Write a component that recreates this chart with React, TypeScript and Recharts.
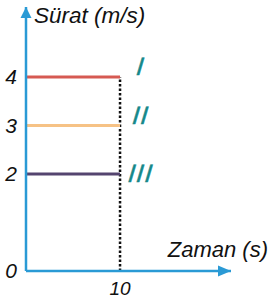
import React from 'react';
import { LineChart, Line, XAxis, YAxis, ReferenceLine, ReferenceDot } from 'recharts';

const timeEnd = 10;
const seriesI = [{ x: 0, v: 4 }, { x: 10, v: 4 }];
const seriesII = [{ x: 0, v: 3 }, { x: 10, v: 3 }];
const seriesIII = [{ x: 0, v: 2 }, { x: 10, v: 2 }];
const seriesNames = ['I', 'II', 'III'];
const yTicks = [0, 2, 3, 4];
const xTicks = [10];
const yTitle = 'Sürat (m/s)';
const xTitle = 'Zaman (s)';

const xMax = 21.8;
const yMax = 5.44;
const AXIS = '#2a9ad5';
const TEAL = '#15888a';
const FONT = '"Liberation Sans", Arial, sans-serif';

const makeLabel = (name: string, dy: number) => (props: any) => {
  if (props.index !== 1) return null;
  const cx = props.x + 21;
  const cy = props.y + dy;
  return (
    <text x={cx} y={cy} textAnchor="middle" dominantBaseline="central"
      transform={`translate(${cx},${cy}) skewX(-6) translate(${-cx},${-cy})`}
      fontFamily={FONT} fontStyle="italic" fontSize={25} fill={TEAL}
      stroke={TEAL} strokeWidth={0.5} letterSpacing={1.5}>{name}</text>
  );
};

const YArrow = (p: any) => (
  <g>
    <polygon points={`${p.cx},${p.cy} ${p.cx - 5.5},${p.cy + 11} ${p.cx + 5.5},${p.cy + 11}`} fill={AXIS} />
    <text x={p.cx + 8} y={p.cy + 15.5} fontFamily={FONT} fontStyle="italic" fontSize={22.5} fill="#111">{yTitle}</text>
  </g>
);

const XArrow = (p: any) => (
  <g>
    <polygon points={`${p.cx},${p.cy} ${p.cx - 13},${p.cy - 5.5} ${p.cx - 13},${p.cy + 5.5}`} fill={AXIS} />
    <text x={p.cx + 37} y={p.cy - 14} textAnchor="end" fontFamily={FONT} fontStyle="italic" fontSize={22} fill="#111">{xTitle}</text>
  </g>
);

export default function App() {
  return (
    <div style={{ position: 'absolute', left: 0, top: 0 }}>
      <LineChart width={275} height={304} margin={{ top: 7, right: 44, bottom: 0, left: 0 }}>
        <XAxis type="number" dataKey="x" domain={[0, xMax]} allowDataOverflow ticks={xTicks}
          tickLine={false} tickSize={0} tickMargin={11} height={33}
          axisLine={{ stroke: AXIS, strokeWidth: 2.5 }}
          tick={{ fontSize: 19, fontStyle: 'italic', fill: '#111', fontFamily: FONT }} />
        <YAxis type="number" domain={[0, yMax]} allowDataOverflow ticks={yTicks}
          tickLine={false} tickSize={0} tickMargin={9} width={26}
          axisLine={{ stroke: AXIS, strokeWidth: 2.5 }}
          tick={{ fontSize: 21, fontStyle: 'italic', fill: '#111', fontFamily: FONT }} />
        <ReferenceLine segment={[{ x: timeEnd, y: 0 }, { x: timeEnd, y: 4 }]} stroke="#111"
          strokeWidth={2.5} strokeDasharray="2.5 2" ifOverflow="visible" />
        <Line data={seriesI} dataKey="v" stroke="#d65a52" strokeWidth={3} dot={false}
          isAnimationActive={false} label={makeLabel(seriesNames[0], -11)} />
        <Line data={seriesII} dataKey="v" stroke="#f6c285" strokeWidth={3} dot={false}
          isAnimationActive={false} label={makeLabel(seriesNames[1], -10)} />
        <Line data={seriesIII} dataKey="v" stroke="#54446f" strokeWidth={3} dot={false}
          isAnimationActive={false} label={makeLabel(seriesNames[2], -1)} />
        <ReferenceDot x={0} y={yMax} r={0} ifOverflow="visible" shape={YArrow} />
        <ReferenceDot x={xMax} y={0} r={0} ifOverflow="visible" shape={XArrow} />
      </LineChart>
    </div>
  );
}
